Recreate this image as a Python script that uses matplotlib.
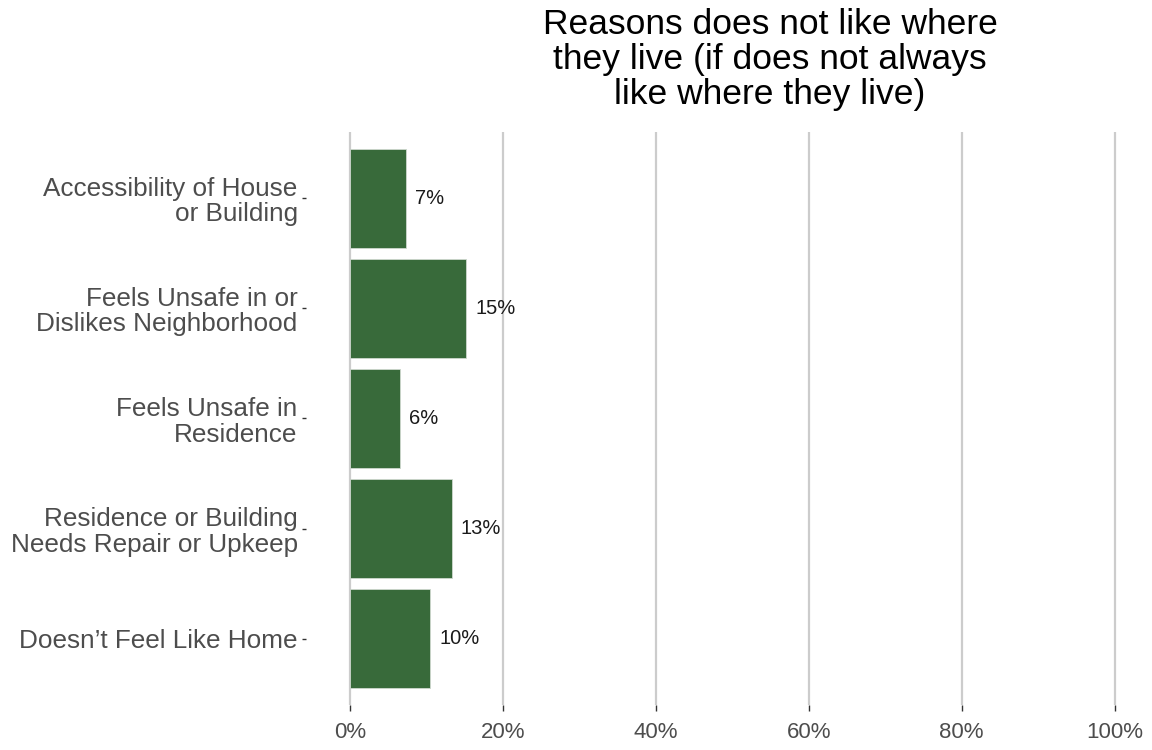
import matplotlib.pyplot as plt
from matplotlib.ticker import FuncFormatter

plt.rcParams['font.family'] = ['Liberation Sans', 'DejaVu Sans']

# categories, top to bottom
reasons = ['Accessibility of House\nor Building',
           'Feels Unsafe in or\nDislikes Neighborhood',
           'Feels Unsafe in\nResidence',
           'Residence or Building\nNeeds Repair or Upkeep',
           'Doesn\u2019t Feel Like Home']
pct = [7.3, 15.2, 6.5, 13.3, 10.5]
pct_labels = ['7%', '15%', '6%', '13%', '10%']
xticks = [0, 20, 40, 60, 80, 100]

fig = plt.figure(figsize=(11.52, 7.5), dpi=100)
ax = fig.add_axes([306/1152, 1 - 705/750, 1 - 306/1152, (705 - 132)/750])

ypos = list(range(len(reasons)))[::-1]
ax.barh(ypos, pct, height=0.9, color='#386a3a', edgecolor='#cfd8cf', linewidth=0.6, zorder=3)
for y, v, lab in zip(ypos, pct, pct_labels):
    ax.text(v + 1.2, y, lab, va='center', ha='left', fontsize=14.5, color='#1a1a1a', zorder=4)

ax.set_xlim(-5.76, 104.9)
ax.set_ylim(-0.6, len(reasons) - 0.4)
ax.set_xticks(xticks)
ax.xaxis.set_major_formatter(FuncFormatter(lambda v, p: f'{v:.0f}%'))
ax.set_yticks(ypos)
ax.set_yticklabels(reasons, fontsize=18.8, color='#4d4d4d', linespacing=1.08)
ax.tick_params(axis='x', labelsize=16, labelcolor='#4d4d4d', length=4, width=1,
               color='#333333', pad=8)
ax.tick_params(axis='y', length=3, width=1, color='#333333', pad=3)
ax.grid(axis='x', color='#cccccc', linewidth=1.6, zorder=0)
ax.set_axisbelow(True)
for s in ax.spines.values():
    s.set_visible(False)

fig.text(770/1152, 1 - 8/750, 'Reasons does not like where\nthey live (if does not always\nlike where they live)',
         ha='center', va='top', fontsize=25.5, color='black', linespacing=1.08)

fig.savefig('out.png', dpi=100)
